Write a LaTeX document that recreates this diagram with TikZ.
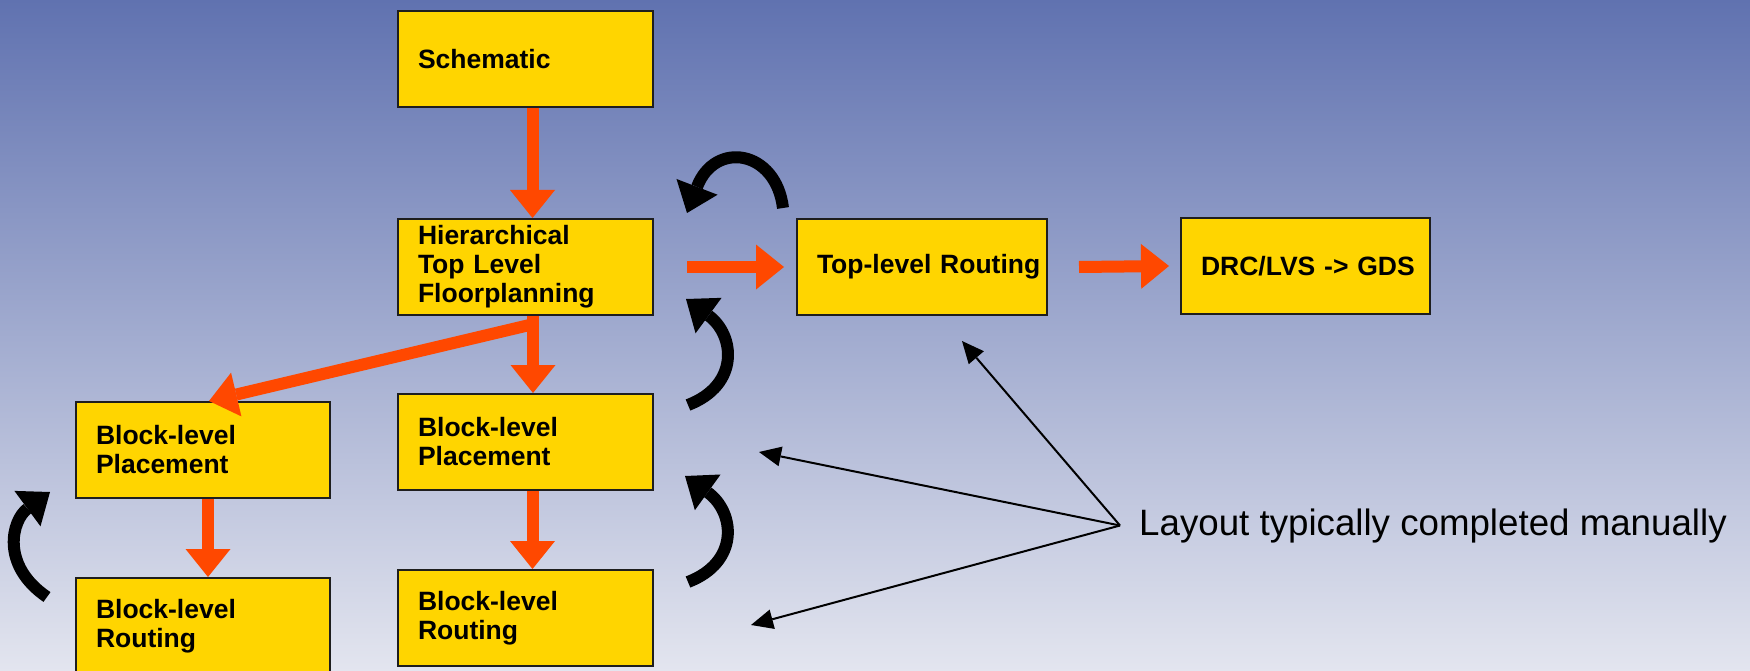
\documentclass[tikz,border=0pt]{standalone}
\usepackage{fontspec}
\setmainfont{Liberation Sans}
\usetikzlibrary{arrows.meta}
\definecolor{bgtop}{RGB}{96,114,176}
\definecolor{bgbot}{RGB}{227,229,239}
\definecolor{boxyellow}{RGB}{255,213,0}
\definecolor{flowred}{RGB}{255,72,0}
\definecolor{boxline}{RGB}{30,30,30}
\begin{document}
\begin{tikzpicture}[x=1pt,y=-1pt,
  stepbox/.style={draw=boxline, line width=2pt, fill=boxyellow, anchor=north west,
    minimum height=96pt, inner xsep=20pt, inner ysep=0pt, align=left,
    font=\bfseries\fontsize{26.5}{29}\selectfont},
  flow/.style={draw=flowred, line width=12pt, -{Triangle[length=28pt,width=45pt,line width=0pt]}},
  loop/.style={draw=black, line width=12pt, -{Triangle[length=28pt,width=44pt,line width=0pt]}},
  noteline/.style={draw=black, line width=2pt, -{Triangle[length=22pt,width=20pt,line width=0pt]}}]
\useasboundingbox (0,0) rectangle (1750,671);
\clip (0,0) rectangle (1750,671);
\shade[top color=bgtop, bottom color=bgbot] (0,0) rectangle (1750,671);

\node[stepbox, text width=215pt] (sch) at (397,10) {Schematic};
\node[stepbox, text width=215pt] (hier) at (397,218) {Hierarchical\\Top Level\\Floorplanning};
\node[stepbox, text width=210pt] (tlr) at (796,218) {\mbox{Top-level Routing}};
\node[stepbox, text width=209pt] (drc) at (1180,217) {\mbox{DRC/LVS -> GDS}};
\node[stepbox, text width=214pt] (lbp) at (75,401) {Block-level\\Placement};
\node[stepbox, text width=214pt] (lbr) at (75,577) {Block-level\\Routing};
\node[stepbox, text width=215pt] (mbp) at (397,393) {Block-level\\Placement};
\node[stepbox, text width=215pt] (mbr) at (397,569) {Block-level\\Routing};

\draw[flow] ([xshift=7pt]sch.south) -- ([xshift=7pt]hier.north);
\draw[flow] ([xshift=33pt]hier.east) -- ([xshift=-12pt]tlr.west);
\draw[flow] ([xshift=31pt]tlr.east) -- ([xshift=-11pt]drc.west);
\draw[flow] ([xshift=7.5pt]hier.south) -- ([xshift=7.5pt]mbp.north);
\draw[flow] ([xshift=4pt,yshift=-9pt]hier.south) -- ([xshift=6pt]lbp.north);
\draw[flow] ([xshift=5pt]lbp.south) -- ([xshift=5pt]lbr.north);
\draw[flow] ([xshift=7pt]mbp.south) -- ([xshift=7pt]mbr.north);

\coordinate (l1s) at (783,208); \coordinate (l1e) at (687,213);
\coordinate (l2s) at (688,405); \coordinate (l2e) at (686,299);
\coordinate (l3s) at (688,582); \coordinate (l3e) at (685,476);
\coordinate (l4s) at (47,597);  \coordinate (l4e) at (50,492);
\draw[loop] (l1s) .. controls (776,150) and (715,140) .. (l1e);
\draw[loop] (l2s) .. controls (740,385) and (735,335) .. (l2e);
\draw[loop] (l3s) .. controls (740,562) and (735,512) .. (l3e);
\draw[loop] (l4s) .. controls (0,565) and (12,520) .. (l4e);

\node[anchor=base west, inner sep=0pt, font=\fontsize{36.7}{40}\selectfont] (note) at (1139,535)
  {Layout typically completed manually};
\coordinate (hub) at ([xshift=-19pt]note.west);
\coordinate (n1) at (962,341);
\coordinate (n2) at (759,452);
\coordinate (n3) at (751,625);
\draw[noteline] (hub) -- (n1);
\draw[noteline] (hub) -- (n2);
\draw[noteline] (hub) -- (n3);
\end{tikzpicture}
\end{document}
